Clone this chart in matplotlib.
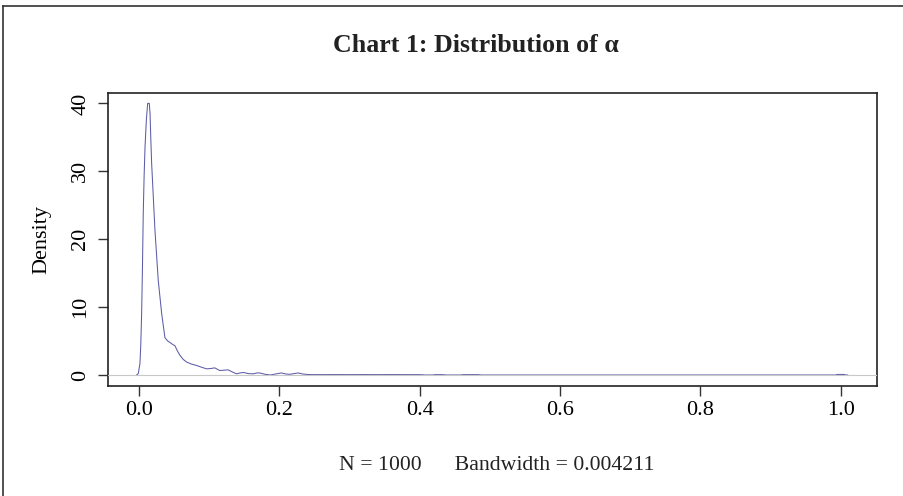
import matplotlib
matplotlib.use("Agg")
import matplotlib.pyplot as plt
from matplotlib.lines import Line2D

plt.rcParams['font.family'] = ['Liberation Serif', 'DejaVu Serif']

# density estimate of alpha
alpha_x = [-0.0035, -0.001, 0.0014, 0.0026, 0.0038, 0.005, 0.0061, 0.0074, 0.0086, 0.0105,
           0.0124, 0.0147, 0.0158, 0.0168, 0.0181, 0.0228, 0.0275, 0.0324, 0.037, 0.041,
           0.044, 0.048, 0.0513, 0.055, 0.0584, 0.063, 0.068, 0.075, 0.0822, 0.089,
           0.0965, 0.102, 0.108, 0.115, 0.121, 0.127, 0.133, 0.139, 0.144, 0.149,
           0.156, 0.163, 0.168, 0.172, 0.180, 0.187, 0.195, 0.203, 0.209, 0.215,
           0.221, 0.227, 0.233, 0.242, 0.260, 0.280, 0.300, 0.320, 0.340, 0.360,
           0.380, 0.398, 0.403, 0.408, 0.418, 0.422, 0.433, 0.438, 0.458, 0.462,
           0.483, 0.488, 0.600, 0.800, 0.990, 0.993, 0.995, 1.005, 1.007, 1.010]
alpha_dens = [0.0, 0.2, 1.7, 4.5, 9.0, 16.0, 23.8, 29.5, 33.5, 37.5,
              40.0, 40.0, 38.5, 35.0, 31.1, 21.3, 13.9, 9.0, 5.5, 5.0,
              4.8, 4.5, 4.3, 3.5, 2.9, 2.3, 1.9, 1.6, 1.4, 1.15,
              0.9, 0.95, 1.05, 0.66, 0.7, 0.76, 0.45, 0.17, 0.3, 0.37,
              0.2, 0.17, 0.3, 0.3, 0.1, 0.0, 0.15, 0.3, 0.15, 0.1,
              0.2, 0.3, 0.15, 0.06, 0.05, 0.06, 0.05, 0.06, 0.05, 0.06,
              0.05, 0.05, 0.04, 0.0, 0.0, 0.05, 0.05, 0.0, 0.0, 0.05,
              0.05, 0.0, 0.0, 0.0, 0.0, 0.0, 0.08, 0.08, 0.0, 0.0]

x_ticks = [0.0, 0.2, 0.4, 0.6, 0.8, 1.0]
x_tick_labels = ["0.0", "0.2", "0.4", "0.6", "0.8", "1.0"]
y_ticks = [0, 10, 20, 30, 40]

fig = plt.figure(figsize=(9.04, 4.96), dpi=100)
ax = fig.add_axes([0.1198, 0.2218, 0.8500, 0.5907])

ax.plot(alpha_x, alpha_dens, color="#5c5ca8", lw=0.75, zorder=2)
ax.axhline(0, color="#c8c8c8", lw=0.8, zorder=3)

ax.set_xlim(-0.0437, 1.0513)
ax.set_ylim(-1.62, 41.53)

ax.set_xticks(x_ticks)
ax.set_xticklabels(x_tick_labels)
ax.set_yticks(y_ticks)
ax.set_yticklabels([str(v) for v in y_ticks], rotation=90, va="center")
ax.tick_params(labelsize=16, length=7, width=1, direction="out", color="#333333")
ax.tick_params(axis="x", pad=4)
ax.tick_params(axis="y", pad=6)

for s in ax.spines.values():
    s.set_linewidth(1.2)
    s.set_color("#222222")

ax.set_ylabel("Density", fontsize=16, labelpad=14)

fig.text(0.527, 0.909, "Chart 1: Distribution of α", fontsize=18.6, fontweight="bold",
         ha="center", va="center", color="#222222")
fig.text(0.5500, 0.062, "N = 1000      Bandwidth = 0.004211", fontsize=15.7,
         ha="center", va="center", color="#222222")

# outer frame (top and left edges only visible)
fig.add_artist(Line2D([0.0033, 1.0], [0.988, 0.988], color="#333333", lw=1.2))
fig.add_artist(Line2D([0.0033, 0.0033], [0.0, 0.988], color="#333333", lw=1.2))

fig.savefig("out.png", dpi=100)
